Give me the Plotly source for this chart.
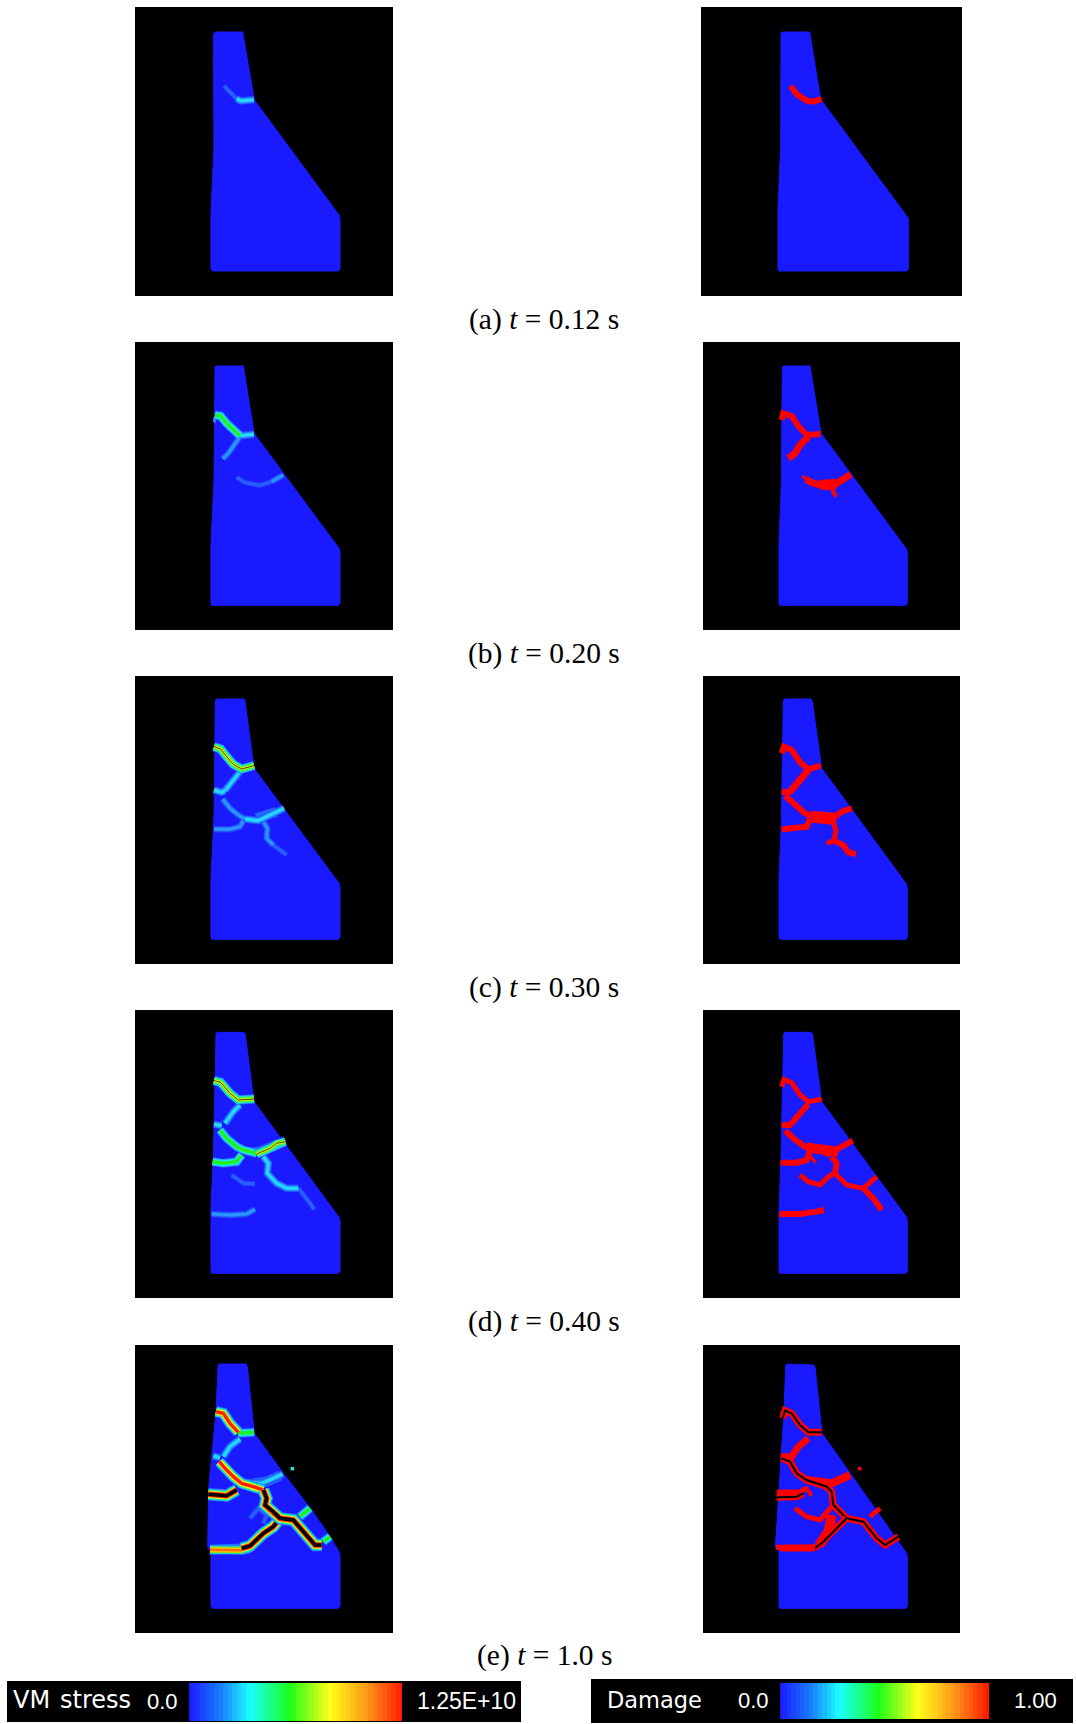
import plotly.graph_objects as go

W, H = 1076, 1724

# Panel frames: (left, top, right, bottom) and the origin of the local dam coordinates
PANEL_FRAMES = [
    ((135, 7, 393, 296), (130, 0)), ((701, 7, 962, 296), (700, 0)),
    ((135, 342, 393, 630), (130, 340)), ((703, 342, 960, 630), (700, 340)),
    ((135, 676, 393, 964), (130, 675)), ((703, 676, 960, 964), (700, 675)),
    ((135, 1010, 393, 1298), (130, 1010)), ((703, 1010, 960, 1298), (700, 1010)),
    ((135, 1345, 393, 1633), (130, 1345)), ((703, 1345, 960, 1633), (700, 1345)),
]

# Dam outlines in local coordinates
DAM_A_STRESS = ([252,256,338,373,627,630,630,625,248,243,243,252,250], [100,96,96,300,645,655,808,813,813,808,640,440,110])
DAM_A_DAMAGE = ([243,247,329,362,365,620,625,625,620,237,234,234,242], [100,96,96,298,302,645,655,808,813,813,808,625,440])
DAM_B_STRESS = ([255,258,340,372,627,630,630,625,245,243,243,252], [82,78,78,280,625,635,790,796,796,790,615,420])
DAM_B_DAMAGE = ([247,250,330,363,620,622,622,618,240,237,237,244], [82,78,78,280,628,640,790,796,796,790,615,430])
DAM_C_STRESS = ([256,259,342,345,372,627,630,630,625,245,243,243,252], [76,72,72,78,280,625,635,787,793,793,787,610,420])
DAM_C_DAMAGE = ([250,253,333,337,365,620,622,622,618,240,237,237,244], [76,72,72,80,280,628,640,787,793,793,787,615,440])
DAM_D_STRESS = ([258,261,342,346,372,627,630,630,625,245,243,243,250], [72,67,67,75,275,622,632,784,790,790,784,590,440])
DAM_D_DAMAGE = ([251,254,334,338,365,620,622,622,618,240,237,237,243], [72,67,67,75,275,622,632,784,790,790,784,600,440])
DAM_E_STRESS = ([264,268,348,352,373,460,545,600,627,630,630,625,248,243,243,233,236,258], [62,57,57,65,265,385,495,575,620,630,784,790,790,784,618,607,430,200])
DAM_E_DAMAGE = ([257,261,340,345,366,620,622,622,618,240,237,237,226,252], [62,57,60,65,265,625,635,784,790,790,784,618,607,200])

# Cracks: (severity, xs, ys)
CRACKS_A_STRESS = [
    ("faint", [282,300,320], [258,275,296]),
    ("cyan", [320,332,372], [296,303,299]),
]
CRACKS_A_DAMAGE = [
    ("d6", [272,290,320,340,365], [258,282,302,305,297]),
]
CRACKS_B_STRESS = [
    ("blue", [330,310,295,278], [290,320,340,356]),
    ("faint", [320,345,390,425], [412,428,436,425]),
    ("blue", [425,460], [425,405]),
    ("blue", [250,258], [240,240]),
    ("cyan", [330,372], [287,283]),
    ("green", [255,272,290,310,330], [225,228,250,270,287]),
]
CRACKS_B_DAMAGE = [
    ("d6", [245,250,275,295,320,362], [240,220,228,258,285,282]),
    ("d7", [325,300,285,265], [290,315,340,355]),
    ("d3", [307,320], [408,418]),
    ("d7", [318,335,380,410,452], [418,428,440,430,403]),
    ("d10", [360,410], [434,432]),
    ("d4", [395,408], [445,470]),
]
CRACKS_C_STRESS = [
    ("haze", [380,410,440], [430,420,410]),
    ("blue", [278,300,325,345], [372,400,420,432]),
    ("blue", [340,330,300,252], [437,455,463,463]),
    ("blue", [400,412,410,430], [440,460,490,510]),
    ("faint", [430,470], [510,540]),
    ("cyan", [345,385,410,462], [432,437,425,400]),
    ("cyan", [330,310,285], [290,315,347]),
    ("cyan", [252,275,285], [345,352,347]),
    ("lime", [252,272,290,310,335,372], [215,222,245,268,282,272]),
]
CRACKS_C_DAMAGE = [
    ("d6", [245,252,275,300,325,362], [235,215,225,262,283,272]),
    ("d7", [325,295,270], [285,320,350]),
    ("d6", [245,275], [350,352]),
    ("d6", [255,285,315,345,390,425,455], [362,390,415,425,435,410,400]),
    ("d12", [335,410], [425,432]),
    ("d6", [330,320,245], [430,455,463]),
    ("d5", [400,408,402,380], [445,465,497,505]),
    ("d6", [402,430,445,468], [497,510,532,537]),
]
CRACKS_D_STRESS = [
    ("haze", [380,410,440], [428,418,405]),
    ("faint", [305,340,375], [495,520,522]),
    ("faint", [505,530,553], [535,565,598]),
    ("blue", [245,300,350,375], [612,615,612,598]),
    ("cyan", [330,310,285], [285,305,340]),
    ("cyan", [252,275], [343,347]),
    ("cyan", [345,400,430,465], [425,420,405,390]),
    ("cyan", [400,415,412,440,470,505], [440,460,490,520,535,535]),
    ("green", [270,290,320,340,380], [360,385,410,420,430]),
    ("green", [248,280,320,335], [455,460,455,435]),
    ("lime", [380,420,440,465], [432,415,400,395]),
    ("lime", [252,272,300,325,372], [212,217,250,270,267]),
]
CRACKS_D_DAMAGE = [
    ("d5", [245,252,275,300,325,365], [230,208,218,255,275,268]),
    ("d6", [325,295,270,245], [282,315,345,345]),
    ("d6", [255,280,315,350,385,425,458], [362,385,410,418,432,410,392]),
    ("d10", [320,415], [412,425]),
    ("d6", [330,320,290,242], [425,450,458,458]),
    ("d3", [330,348], [440,458]),
    ("d6", [395,410,405], [440,460,490]),
    ("d5", [300,325,360,385,405], [495,515,525,500,490]),
    ("d5", [405,440,490,530], [490,525,535,500]),
    ("d6", [490,520,545], [535,565,600]),
    ("d6", [238,300,350,372], [612,612,605,600]),
]
CRACKS_E_STRESS = [
    ("faint", [360,385,410,400], [520,490,510,535]),
    ("haze", [370,410,450], [415,410,392]),
    ("cyan", [330,300,280], [282,305,335]),
    ("cyan", [250,270], [333,338]),
    ("cyan", [335,395,430,458], [412,415,400,387]),
    ("green", [325,372], [265,262]),
    ("green", [510,540], [515,490]),
    ("green", [580,600], [590,575]),
    ("orange", [240,340,360], [614,616,610]),
    ("warm", [258,280,300,325], [200,205,235,262]),
    ("hot", [235,290,320], [448,452,435]),
    ("warm", [268,285,310,335,370,400], [350,370,395,415,425,435]),
    ("hot", [450,430,400,360,335], [520,545,565,603,610]),
    ("hot", [400,410,405,430,450,490,520,555,575], [435,460,480,500,520,525,560,600,600]),
    ("dot", [487], [371]),
]
CRACKS_E_DAMAGE = [
    ("d10", [395,385,358], [510,560,600]),
    ("d8", [320,360,395,450], [405,410,415,390]),
    ("d7", [325,295,275,242], [280,305,335,335]),
    ("d5", [228,300,350], [607,605,605]),
    ("d5", [285,320,360,385,400], [490,515,525,495,480]),
    ("d5", [510,540], [515,490]),
    ("d4", [315,335], [425,452]),
    ("d5", [230,300,320], [442,440,430]),
    ("d5k", [230,290,310], [457,455,445]),
    ("d5k", [248,255,275,300,325,365], [220,197,205,240,262,262]),
    ("d5k", [245,270,290,320,380,395,400,440,490,530,555,595], [340,350,385,405,425,440,480,520,530,580,600,575]),
    ("d5k", [440,420,370,345], [520,540,590,610]),
    ("d5", [345,240], [612,612]),
    ("dotred", [479], [371]),
]

DAMS = [DAM_A_STRESS, DAM_A_DAMAGE, DAM_B_STRESS, DAM_B_DAMAGE, DAM_C_STRESS,
        DAM_C_DAMAGE, DAM_D_STRESS, DAM_D_DAMAGE, DAM_E_STRESS, DAM_E_DAMAGE]
CRACKS = [CRACKS_A_STRESS, CRACKS_A_DAMAGE, CRACKS_B_STRESS, CRACKS_B_DAMAGE, CRACKS_C_STRESS,
          CRACKS_C_DAMAGE, CRACKS_D_STRESS, CRACKS_D_DAMAGE, CRACKS_E_STRESS, CRACKS_E_DAMAGE]

CAPTIONS = ["(a) <i>t</i> = 0.12 s", "(b) <i>t</i> = 0.20 s", "(c) <i>t</i> = 0.30 s",
            "(d) <i>t</i> = 0.40 s", "(e) <i>t</i> = 1.0 s"]
CAPTION_Y = [319, 653, 987, 1321, 1655]

RAMP_STEPS = list(range(48))
STRESS_LIMITS = (0.0, 1.25e10)
DAMAGE_LIMITS = (0.0, 1.0)

BLUE = "#1a1aff"
JET = [[0, BLUE], [0.15, "#1a80ff"], [0.285, "#1affff"], [0.47, "#1aff1a"],
       [0.66, "#ffff1a"], [0.83, "#ff9a1a"], [1, "#ff1a00"]]

STROKES = {
    "haze": [("#2468ff", 10)],
    "faint": [("#2240ff", 5), ("#2660ff", 3)],
    "blue": [("#2340ff", 6.5), ("#2570ff", 4.5), ("#2a98ff", 2.5)],
    "cyan": [("#2350ff", 7.5), ("#2590ff", 5.5), ("#25d8ff", 3)],
    "green": [("#2560ff", 9), ("#25b0ff", 7.5), ("#20f0e0", 5.5), ("#20f020", 3.5)],
    "lime": [("#2560ff", 9.5), ("#25c0ff", 8), ("#20f0a0", 6.5), ("#60f020", 4.5), ("#e0f000", 2.5), ("#202000", 0.8)],
    "orange": [("#2570ff", 10), ("#25c0ff", 8.5), ("#40f040", 7), ("#ffc000", 5), ("#ff7000", 2.5)],
    "warm": [("#2570ff", 11), ("#25c0ff", 9.5), ("#20f0a0", 8), ("#f0f000", 6), ("#ff2000", 3.5)],
    "hot": [("#2570ff", 12.5), ("#25b0ff", 11), ("#20f0a0", 9.5), ("#f0f000", 7.5), ("#ff2000", 5.5), ("#000000", 3.5)],
    "d3": [("#ff0000", 3)],
    "d4": [("#ff0000", 4)],
    "d5": [("#ff0000", 5)],
    "d6": [("#ff0000", 6)],
    "d7": [("#ff0000", 7)],
    "d8": [("#ff0000", 8)],
    "d10": [("#ff0000", 10)],
    "d12": [("#ff0000", 12)],
    "d5k": [("#ff0000", 7), ("#000000", 2)],
}
DOTS = {"dot": "#20e0d0", "dotred": "#ff0000"}

fig = go.Figure()
layout = {}
shapes = []
annotations = []


def px_x(v):
    return v / W


def px_y(v):
    return 1 - v / H


for i, ((frame, origin), dam, cracks) in enumerate(zip(PANEL_FRAMES, DAMS, CRACKS), start=1):
    x0, y0, x1, y1 = frame
    ox, oy = origin
    suffix = "" if i == 1 else str(i)
    layout[f"xaxis{suffix}"] = dict(domain=[px_x(x0), px_x(x1)], range=[(x0 - ox) * 3, (x1 - ox) * 3],
                                    visible=False, anchor=f"y{suffix}", fixedrange=True)
    layout[f"yaxis{suffix}"] = dict(domain=[px_y(y1), px_y(y0)], range=[(y1 - oy) * 3, (y0 - oy) * 3],
                                    visible=False, anchor=f"x{suffix}", fixedrange=True)
    shapes.append(dict(type="rect", xref="paper", yref="paper", x0=px_x(x0), x1=px_x(x1),
                       y0=px_y(y1), y1=px_y(y0), fillcolor="#000000", line_width=0, layer="below"))
    ax = dict(xaxis=f"x{suffix}" if suffix else "x", yaxis=f"y{suffix}" if suffix else "y")
    fig.add_trace(go.Scatter(x=dam[0] + dam[0][:1], y=dam[1] + dam[1][:1], mode="lines", fill="toself",
                             fillcolor=BLUE, line=dict(color=BLUE, width=1), hoverinfo="skip",
                             showlegend=False, **ax))
    for level, xs, ys in cracks:
        if level in DOTS:
            fig.add_trace(go.Scatter(x=xs, y=ys, mode="markers", hoverinfo="skip", showlegend=False,
                                     marker=dict(color=DOTS[level], size=3.5, symbol="square"), **ax))
            continue
        for color, width in STROKES[level]:
            fig.add_trace(go.Scatter(x=xs, y=ys, mode="lines", hoverinfo="skip", showlegend=False,
                                     line=dict(color=color, width=width), **ax))

# Colour bars
BARS = [
    ((7, 1681, 521, 1722), (189, 1683, 402, 1721), STRESS_LIMITS),
    ((591, 1679, 1073, 1723), (780, 1683, 989, 1719), DAMAGE_LIMITS),
]
for j, (back, grad, limits) in enumerate(BARS, start=11):
    shapes.append(dict(type="rect", xref="paper", yref="paper", x0=px_x(back[0]), x1=px_x(back[2]),
                       y0=px_y(back[3]), y1=px_y(back[1]), fillcolor="#000000", line_width=0, layer="below"))
    n = len(RAMP_STEPS) - 1
    xs = [limits[0] + (limits[1] - limits[0]) * s / n for s in RAMP_STEPS]
    layout[f"xaxis{j}"] = dict(domain=[px_x(grad[0]), px_x(grad[2])], range=[xs[0], xs[-1]], visible=False,
                               anchor=f"y{j}", fixedrange=True)
    layout[f"yaxis{j}"] = dict(domain=[px_y(grad[3]), px_y(grad[1])], range=[-0.5, 0.5], visible=False,
                               anchor=f"x{j}", fixedrange=True)
    fig.add_trace(go.Heatmap(x=xs, y=[0], z=[xs], colorscale=JET, zmin=limits[0], zmax=limits[1],
                             showscale=False, hoverinfo="skip", xaxis=f"x{j}", yaxis=f"y{j}"))

for text, y in zip(CAPTIONS, CAPTION_Y):
    annotations.append(dict(text=text, x=px_x(544), y=px_y(y), xref="paper", yref="paper", showarrow=False,
                            xanchor="center", yanchor="middle",
                            font=dict(family="Liberation Serif", size=29.5, color="#000000")))

BAR_TEXT = [
    ("VM", 13, 1700, "DejaVu Sans", 24), ("stress", 60, 1700, "DejaVu Sans", 24),
    ("0.0", 147, 1701, "Liberation Sans", 22), ("1.25E+10", 417, 1701, "Liberation Sans", 23),
    ("Damage", 607, 1700, "DejaVu Sans", 22.5), ("0.0", 738, 1700, "Liberation Sans", 22),
    ("1.00", 1014, 1700, "Liberation Sans", 22),
]
for text, x, y, family, size in BAR_TEXT:
    annotations.append(dict(text=text, x=px_x(x), y=px_y(y), xref="paper", yref="paper", showarrow=False,
                            xanchor="left", yanchor="middle", borderpad=0, borderwidth=0,
                            font=dict(family=family, size=size, color="#ffffff")))

fig.update_layout(width=W, height=H, autosize=False, margin=dict(l=0, r=0, t=0, b=0),
                  paper_bgcolor="#ffffff", plot_bgcolor="rgba(0,0,0,0)", showlegend=False,
                  shapes=shapes, annotations=annotations, **layout)

fig.write_html("out.html", config={"displayModeBar": False, "responsive": False},
               post_script="document.body.style.margin='0';document.documentElement.style.overflow='hidden';")
